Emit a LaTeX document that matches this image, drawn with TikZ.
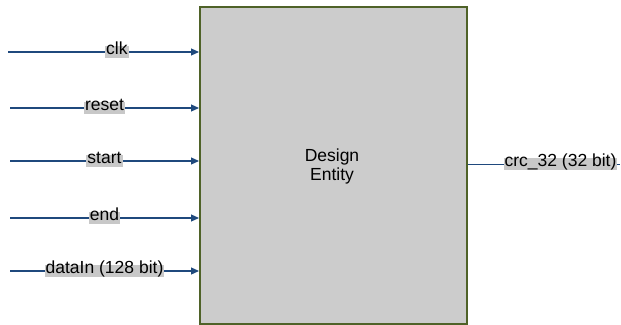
\documentclass[tikz,border=0pt]{standalone}
\usepackage{fontspec}
\setmainfont{Liberation Sans}
\usetikzlibrary{arrows.meta, positioning}
\definecolor{wire}{HTML}{1F497D}
\definecolor{boxline}{HTML}{4F6228}
\definecolor{boxfill}{HTML}{CCCCCC}
\definecolor{tagfill}{HTML}{C8C8C8}

\begin{document}
\begin{tikzpicture}[x=1pt, y=-1pt, font=\fontsize{17.5}{19}\selectfont,
    sig/.style={fill=tagfill, inner sep=1pt, text depth=0.2em, text height=0.76em},
    wirein/.style={draw=wire, line width=1.2pt, -{Triangle[length=8pt,width=7pt]}},
    wireout/.style={draw=wire, line width=1pt}]
    \useasboundingbox (0,0) rectangle (621,324);

    % Entity
    \node[draw=boxline, fill=boxfill, line width=1.5pt, minimum width=267pt, minimum height=317pt,
          anchor=north west] (ent) at (199,6) {};
    \node[align=center] (entname) at (332,166) {Design\\Entity};

    % Inputs
    \coordinate (clk) at (8,52);
    \coordinate (reset) at (10,108);
    \coordinate (start) at (10,161);
    \coordinate (end) at (10,218);
    \coordinate (datain) at (10,271);
    \draw[wirein] (clk) -- node[sig, pos=0.57] {clk} (clk -| ent.west);
    \draw[wirein] (reset) -- node[sig] {reset} (reset -| ent.west);
    \draw[wirein] (start) -- node[sig] {start} (start -| ent.west);
    \draw[wirein] (end) -- node[sig] {end} (end -| ent.west);
    \draw[wirein] (datain) -- node[sig] {dataIn (128 bit)} (datain -| ent.west);

    % Output
    \coordinate (crc) at (620,164);
    \draw[wireout] (crc -| ent.east) -- node[sig, pos=0.61] {crc\_32 (32 bit)} (crc);
\end{tikzpicture}
\end{document}
